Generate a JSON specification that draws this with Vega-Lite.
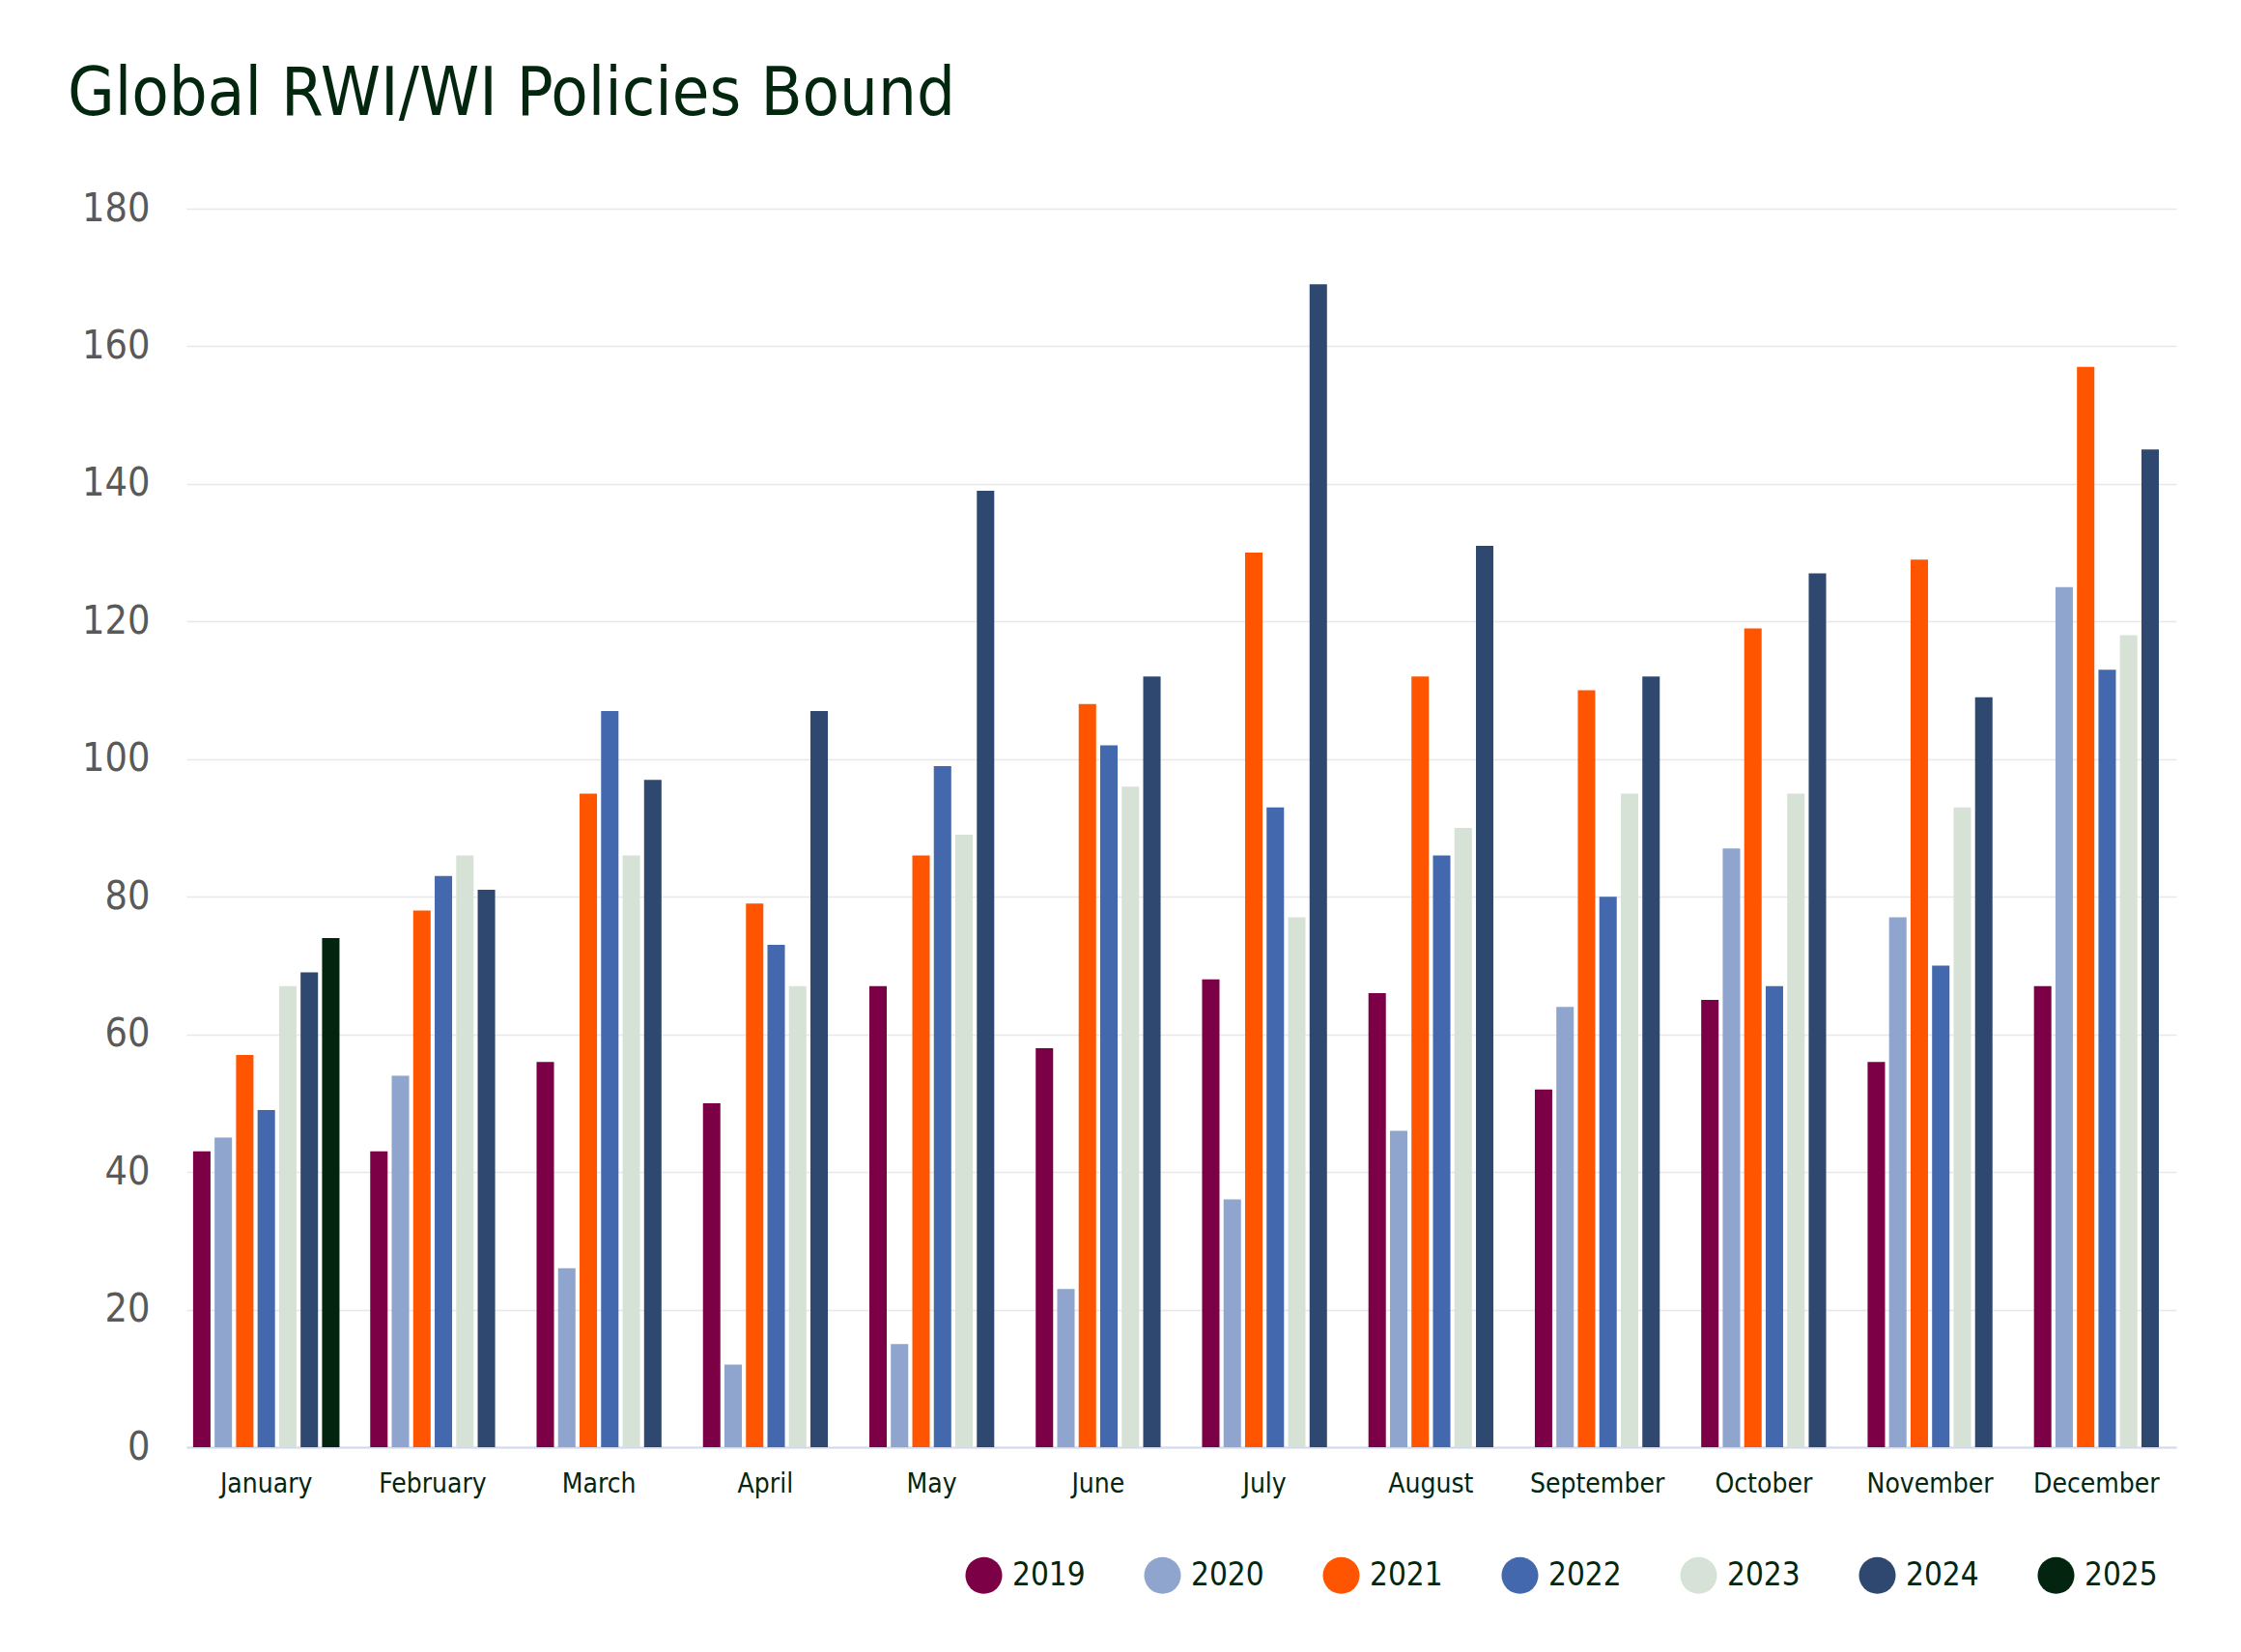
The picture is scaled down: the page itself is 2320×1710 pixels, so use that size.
{
  "$schema": "https://vega.github.io/schema/vega-lite/v6.json",
  "width": 2060,
  "height": 1282,
  "autosize": "none",
  "padding": {"left": 193, "top": 216, "right": 67, "bottom": 212},
  "background": "white",
  "title": {
    "text": "Global RWI/WI Policies Bound",
    "anchor": "start",
    "frame": "group",
    "font": "DejaVu Sans Condensed",
    "fontSize": 70,
    "fontWeight": "normal",
    "color": "#03260F",
    "baseline": "alphabetic",
    "dx": -123,
    "offset": 74,
    "dy": 68
  },
  "config": {"view": {"stroke": null}},
  "data": {
    "values": [
      {"month": "January", "year": "2019", "value": 43},
      {"month": "January", "year": "2020", "value": 45},
      {"month": "January", "year": "2021", "value": 57},
      {"month": "January", "year": "2022", "value": 49},
      {"month": "January", "year": "2023", "value": 67},
      {"month": "January", "year": "2024", "value": 69},
      {"month": "January", "year": "2025", "value": 74},
      {"month": "February", "year": "2019", "value": 43},
      {"month": "February", "year": "2020", "value": 54},
      {"month": "February", "year": "2021", "value": 78},
      {"month": "February", "year": "2022", "value": 83},
      {"month": "February", "year": "2023", "value": 86},
      {"month": "February", "year": "2024", "value": 81},
      {"month": "March", "year": "2019", "value": 56},
      {"month": "March", "year": "2020", "value": 26},
      {"month": "March", "year": "2021", "value": 95},
      {"month": "March", "year": "2022", "value": 107},
      {"month": "March", "year": "2023", "value": 86},
      {"month": "March", "year": "2024", "value": 97},
      {"month": "April", "year": "2019", "value": 50},
      {"month": "April", "year": "2020", "value": 12},
      {"month": "April", "year": "2021", "value": 79},
      {"month": "April", "year": "2022", "value": 73},
      {"month": "April", "year": "2023", "value": 67},
      {"month": "April", "year": "2024", "value": 107},
      {"month": "May", "year": "2019", "value": 67},
      {"month": "May", "year": "2020", "value": 15},
      {"month": "May", "year": "2021", "value": 86},
      {"month": "May", "year": "2022", "value": 99},
      {"month": "May", "year": "2023", "value": 89},
      {"month": "May", "year": "2024", "value": 139},
      {"month": "June", "year": "2019", "value": 58},
      {"month": "June", "year": "2020", "value": 23},
      {"month": "June", "year": "2021", "value": 108},
      {"month": "June", "year": "2022", "value": 102},
      {"month": "June", "year": "2023", "value": 96},
      {"month": "June", "year": "2024", "value": 112},
      {"month": "July", "year": "2019", "value": 68},
      {"month": "July", "year": "2020", "value": 36},
      {"month": "July", "year": "2021", "value": 130},
      {"month": "July", "year": "2022", "value": 93},
      {"month": "July", "year": "2023", "value": 77},
      {"month": "July", "year": "2024", "value": 169},
      {"month": "August", "year": "2019", "value": 66},
      {"month": "August", "year": "2020", "value": 46},
      {"month": "August", "year": "2021", "value": 112},
      {"month": "August", "year": "2022", "value": 86},
      {"month": "August", "year": "2023", "value": 90},
      {"month": "August", "year": "2024", "value": 131},
      {"month": "September", "year": "2019", "value": 52},
      {"month": "September", "year": "2020", "value": 64},
      {"month": "September", "year": "2021", "value": 110},
      {"month": "September", "year": "2022", "value": 80},
      {"month": "September", "year": "2023", "value": 95},
      {"month": "September", "year": "2024", "value": 112},
      {"month": "October", "year": "2019", "value": 65},
      {"month": "October", "year": "2020", "value": 87},
      {"month": "October", "year": "2021", "value": 119},
      {"month": "October", "year": "2022", "value": 67},
      {"month": "October", "year": "2023", "value": 95},
      {"month": "October", "year": "2024", "value": 127},
      {"month": "November", "year": "2019", "value": 56},
      {"month": "November", "year": "2020", "value": 77},
      {"month": "November", "year": "2021", "value": 129},
      {"month": "November", "year": "2022", "value": 70},
      {"month": "November", "year": "2023", "value": 93},
      {"month": "November", "year": "2024", "value": 109},
      {"month": "December", "year": "2019", "value": 67},
      {"month": "December", "year": "2020", "value": 125},
      {"month": "December", "year": "2021", "value": 157},
      {"month": "December", "year": "2022", "value": 113},
      {"month": "December", "year": "2023", "value": 118},
      {"month": "December", "year": "2024", "value": 145}
    ]
  },
  "encoding": {
    "x": {
      "field": "month",
      "type": "nominal",
      "sort": ["January", "February", "March", "April", "May", "June", "July", "August", "September", "October", "November", "December"],
      "title": null,
      "scale": {"paddingInner": 0.12, "paddingOuter": 0.04},
      "axis": {
        "labelAngle": 0,
        "labelFont": "DejaVu Sans Condensed",
        "labelFontSize": 28,
        "labelColor": "#03260F",
        "labelPadding": 24,
        "ticks": false,
        "domainColor": "#d3d9ec",
        "domainWidth": 2
      }
    },
    "y": {
      "field": "value",
      "type": "quantitative",
      "title": null,
      "scale": {"domain": [0, 180]},
      "axis": {
        "values": [0, 20, 40, 60, 80, 100, 120, 140, 160, 180],
        "domain": false,
        "ticks": false,
        "labelFont": "DejaVu Sans Condensed",
        "labelFontSize": 41,
        "labelColor": "#595959",
        "labelPadding": 38,
        "gridColor": "#e8e8e8",
        "gridWidth": 1.5
      }
    },
    "color": {
      "field": "year",
      "type": "nominal",
      "scale": {
        "domain": ["2019", "2020", "2021", "2022", "2023", "2024", "2025"],
        "range": ["#7B0046", "#8FA5CE", "#FF5500", "#4468AD", "#D7E2D7", "#2E4870", "#03240F"]
      },
      "legend": {
        "orient": "none",
        "legendX": 806,
        "legendY": 1395,
        "direction": "horizontal",
        "columns": 7,
        "title": null,
        "symbolType": "circle",
        "symbolSize": 1450,
        "symbolStrokeWidth": 0,
        "labelFont": "DejaVu Sans Condensed",
        "labelFontSize": 33,
        "labelColor": "#03260F",
        "labelOffset": 10,
        "columnPadding": 60,
        "gridAlign": "all"
      }
    }
  },
  "layer": [
    {
      "transform": [{"filter": "datum.month == 'January'"}],
      "mark": "bar",
      "encoding": {
        "xOffset": {
          "field": "year",
          "type": "nominal",
          "scale": {
            "domain": ["2019", "2020", "2021", "2022", "2023", "2024", "2025"],
            "paddingInner": 0.19,
            "paddingOuter": 0
          }
        }
      }
    },
    {
      "transform": [{"filter": "datum.month != 'January'"}],
      "mark": "bar",
      "encoding": {
        "xOffset": {
          "field": "year",
          "type": "nominal",
          "scale": {
            "domain": ["2019", "2020", "2021", "2022", "2023", "2024"],
            "paddingInner": 0.19,
            "paddingOuter": 0.5
          }
        }
      }
    }
  ],
  "resolve": {"scale": {"xOffset": "independent"}}
}
